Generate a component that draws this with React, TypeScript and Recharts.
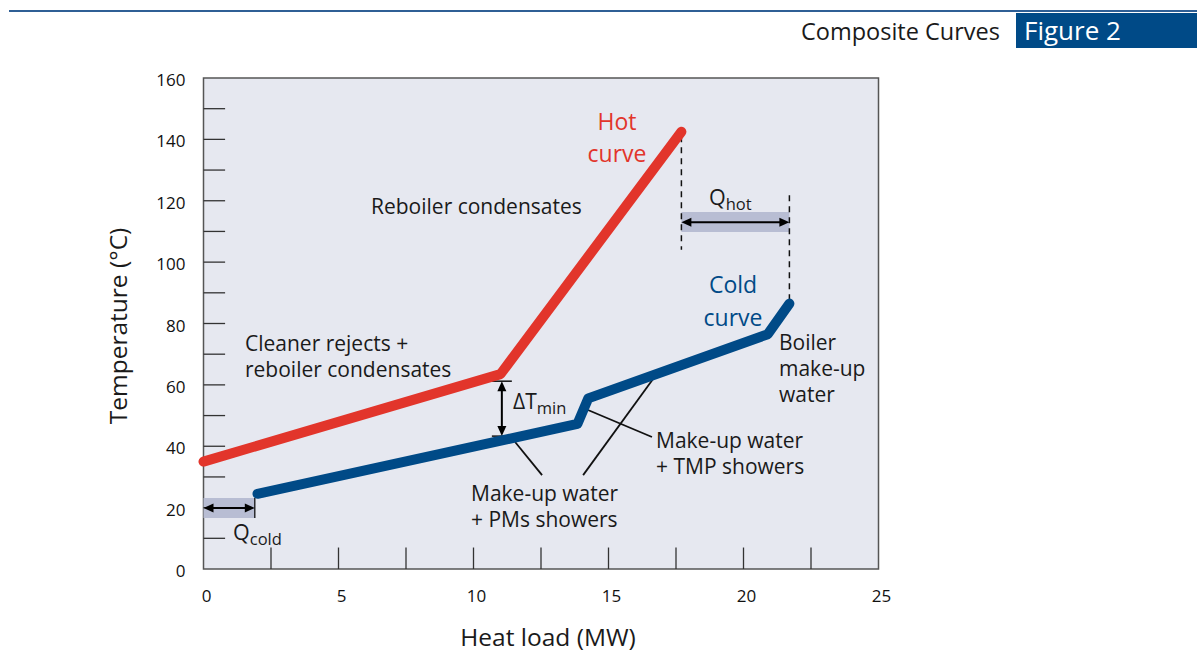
import React from "react";
import { LineChart, Line, XAxis, YAxis, ReferenceArea, ReferenceLine } from "recharts";

// composite curves (x = heat load MW, t = temperature °C)
const hotCurve = [
  { x: 0, t: 35 },
  { x: 11, t: 63.5 },
  { x: 17.7, t: 142.5 },
];

const coldCurve = [
  { x: 2, t: 24.5 },
  { x: 13.85, t: 47.3 },
  { x: 14.25, t: 55.6 },
  { x: 20.9, t: 76.5 },
  { x: 21.7, t: 86.5 },
];

const xTicks = [0, 5, 10, 15, 20, 25];
const xMinorTicks = [2.5, 5, 7.5, 10, 12.5, 15, 17.5, 20, 22.5];
const yTicks = [0, 20, 40, 60, 80, 100, 120, 140, 160];
const yMinorTicks = [10, 20, 30, 40, 50, 60, 70, 80, 90, 100, 110, 120, 130, 140, 150];

const deltaTmin = { x: 11.05, top: 61.2, bottom: 43.3 };
const qHot = { x1: 17.7, x2: 21.7, t: 113, band: [109.8, 116.3] };
const qCold = { x1: 0, x2: 1.9, t: 19.9, band: [16.6, 23.1] };

const leaders = [
  [{ x: 11.54, y: 41.4 }, { x: 12.54, y: 30.6 }],
  [{ x: 16.65, y: 61.9 }, { x: 14.06, y: 30.6 }],
  [{ x: 14.24, y: 51.8 }, { x: 16.61, y: 43.0 }],
];

const FONT = "'Open Sans', 'Noto Sans', sans-serif";
const RED = "#e2352b";
const BLUE = "#004a87";

const Arrow = (props: any) => {
  const { x1, y1, x2, y2 } = props;
  const a = Math.atan2(y2 - y1, x2 - x1);
  const L = 10;
  const W = 4.5;
  const head = (px: number, py: number, dir: number) => {
    const bx = px - Math.cos(dir) * L;
    const by = py - Math.sin(dir) * L;
    const nx = -Math.sin(dir) * W;
    const ny = Math.cos(dir) * W;
    return `${px},${py} ${bx + nx},${by + ny} ${bx - nx},${by - ny}`;
  };
  return (
    <g>
      <line
        x1={x1 + Math.cos(a) * 6}
        y1={y1 + Math.sin(a) * 6}
        x2={x2 - Math.cos(a) * 6}
        y2={y2 - Math.sin(a) * 6}
        stroke="#000"
        strokeWidth={2}
      />
      <polygon points={head(x2, y2, a)} fill="#000" />
      <polygon points={head(x1, y1, a + Math.PI)} fill="#000" />
    </g>
  );
};

const XTick = ({ x, y, payload }: any) => (
  <text x={x + 3} y={y + 19} textAnchor="middle" fontSize={17} fontFamily={FONT} fill="#111">
    {payload.value}
  </text>
);

const YTick = ({ x, y, payload }: any) => (
  <text x={x} y={y + 8} textAnchor="end" fontSize={17} fontFamily={FONT} fill="#111">
    {payload.value}
  </text>
);

const txt: React.CSSProperties = {
  position: "absolute",
  fontFamily: FONT,
  fontSize: 21,
  lineHeight: "26px",
  color: "#1a1a1a",
  whiteSpace: "nowrap",
};

const sub: React.CSSProperties = { fontSize: 16.5, verticalAlign: "-5px" };

export default function App() {
  return (
    <div style={{ position: "absolute", left: 0, top: 0, width: 1197, height: 656, background: "#fff", fontFamily: FONT }}>
      <div style={{ position: "absolute", left: 9, top: 10, width: 1188, height: 2, background: "#2f5f95" }} />
      <div style={{ position: "absolute", right: 197, top: 13, fontSize: 23.5, lineHeight: "36px", color: "#1a1a1a" }}>
        Composite Curves
      </div>
      <div
        style={{
          position: "absolute",
          left: 1016,
          top: 13,
          width: 181,
          height: 35,
          background: BLUE,
          color: "#fff",
          fontSize: 26,
          lineHeight: "35px",
          paddingLeft: 8,
          boxSizing: "border-box",
        }}
      >
        Figure 2
      </div>

      <LineChart width={1197} height={656} margin={{ top: 78, right: 318.5, bottom: 47, left: 143.5 }}>
        <ReferenceArea x1={0} x2={25} y1={0} y2={160} fill="#e6e8f0" fillOpacity={1} stroke="#555" strokeWidth={1.5} />
        <XAxis
          type="number"
          dataKey="x"
          domain={[0, 25]}
          ticks={xTicks}
          height={40}
          axisLine={false}
          tickLine={false}
          tickMargin={8}
          tick={<XTick />}
        />
        <YAxis
          type="number"
          dataKey="t"
          domain={[0, 160]}
          ticks={yTicks}
          width={60}
          axisLine={false}
          tickLine={false}
          tickMargin={12}
          tick={<YTick />}
        />
        {yMinorTicks.map((v) => (
          <ReferenceLine key={`yt${v}`} segment={[{ x: 0, y: v }, { x: 0.8, y: v }]} stroke="#333" strokeWidth={1.3} />
        ))}
        {xMinorTicks.map((v) => (
          <ReferenceLine key={`xt${v}`} segment={[{ x: v, y: 0 }, { x: v, y: 7 }]} stroke="#333" strokeWidth={1.3} />
        ))}

        <ReferenceArea x1={qHot.x1} x2={qHot.x2} y1={qHot.band[0]} y2={qHot.band[1]} fill="#b8bdd3" fillOpacity={1} />
        <ReferenceArea x1={qCold.x1} x2={qCold.x2} y1={qCold.band[0]} y2={qCold.band[1]} fill="#b8bdd3" fillOpacity={1} />
        <ReferenceLine segment={[{ x: qHot.x1, y: 141 }, { x: qHot.x1, y: 104 }]} stroke="#111" strokeWidth={1.5} strokeDasharray="6 5" />
        <ReferenceLine segment={[{ x: qHot.x2, y: 121.8 }, { x: qHot.x2, y: 86.6 }]} stroke="#111" strokeWidth={1.5} strokeDasharray="6 5" />
        <ReferenceLine segment={[{ x: qCold.x2, y: qCold.band[0] }, { x: qCold.x2, y: qCold.band[1] }]} stroke="#111" strokeWidth={1.3} />
        <ReferenceLine segment={[{ x: qHot.x1, y: qHot.t }, { x: qHot.x2, y: qHot.t }]} shape={<Arrow />} />
        <ReferenceLine segment={[{ x: qCold.x1, y: qCold.t }, { x: qCold.x2, y: qCold.t }]} shape={<Arrow />} />

        <ReferenceLine segment={[{ x: 10.68, y: deltaTmin.top }, { x: 11.42, y: deltaTmin.top }]} stroke="#111" strokeWidth={1.5} />
        <ReferenceLine segment={[{ x: 10.68, y: deltaTmin.bottom }, { x: 11.42, y: deltaTmin.bottom }]} stroke="#111" strokeWidth={1.5} />
        <ReferenceLine
          segment={[{ x: deltaTmin.x, y: deltaTmin.top }, { x: deltaTmin.x, y: deltaTmin.bottom }]}
          shape={<Arrow />}
        />

        {leaders.map((seg, i) => (
          <ReferenceLine key={`ld${i}`} segment={seg} stroke="#111" strokeWidth={1.8} />
        ))}

        <Line
          data={hotCurve}
          dataKey="t"
          type="linear"
          stroke={RED}
          strokeWidth={10}
          strokeLinecap="round"
          strokeLinejoin="round"
          dot={false}
          activeDot={false}
          isAnimationActive={false}
        />
        <Line
          data={coldCurve}
          dataKey="t"
          type="linear"
          stroke={BLUE}
          strokeWidth={10}
          strokeLinecap="round"
          strokeLinejoin="round"
          dot={false}
          activeDot={false}
          isAnimationActive={false}
        />
      </LineChart>

      <div style={{ ...txt, left: 371, top: 193 }}>Reboiler condensates</div>
      <div style={{ ...txt, left: 245, top: 330 }}>
        Cleaner rejects +<br />reboiler condensates
      </div>
      <div style={{ ...txt, left: 567, width: 100, top: 105, textAlign: "center", color: RED, fontSize: 23, lineHeight: "32px" }}>
        Hot<br />curve
      </div>
      <div style={{ ...txt, left: 683, width: 100, top: 268, textAlign: "center", color: BLUE, fontSize: 23, lineHeight: "33px" }}>
        Cold<br />curve
      </div>
      <div style={{ ...txt, left: 779, top: 329 }}>
        Boiler<br />make-up<br />water
      </div>
      <div style={{ ...txt, left: 656, top: 427 }}>
        Make-up water<br />+ TMP showers
      </div>
      <div style={{ ...txt, left: 471, top: 480 }}>
        Make-up water<br />+ PMs showers
      </div>
      <div style={{ ...txt, left: 513, top: 388, fontSize: 21 }}>
        ΔT<sub style={sub}>min</sub>
      </div>
      <div style={{ ...txt, left: 709, top: 184, fontSize: 21.5 }}>
        Q<sub style={sub}>hot</sub>
      </div>
      <div style={{ ...txt, left: 233, top: 519, fontSize: 21.5 }}>
        Q<sub style={sub}>cold</sub>
      </div>

      <div
        style={{
          ...txt,
          fontSize: 24.5,
          left: 118,
          top: 326,
          transform: "translate(-50%, -50%) rotate(-90deg)",
          lineHeight: "30px",
        }}
      >
        Temperature (°C)
      </div>
      <div style={{ ...txt, fontSize: 24.5, left: 548, top: 637, transform: "translate(-50%, -50%)", lineHeight: "30px" }}>
        Heat load (MW)
      </div>
    </div>
  );
}
